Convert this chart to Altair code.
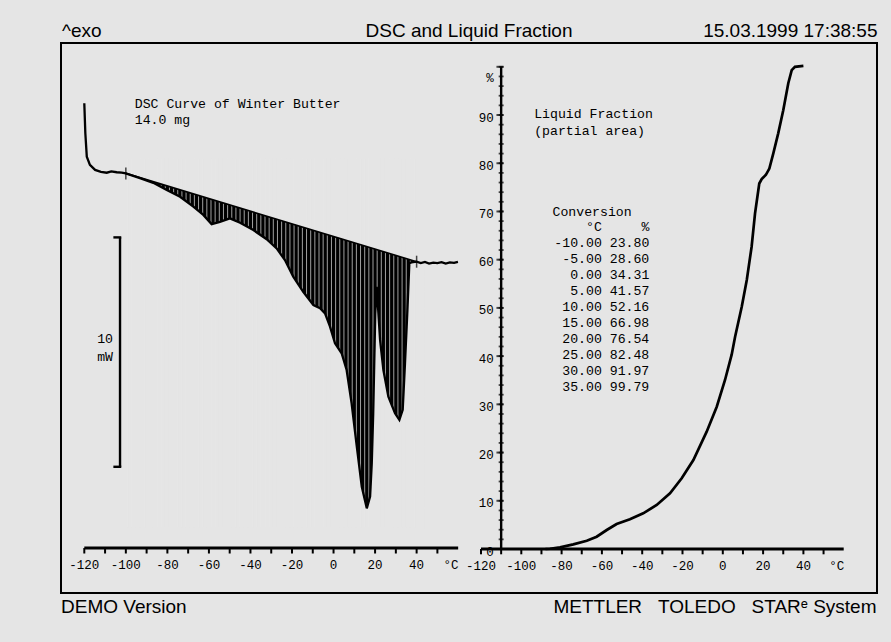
import altair as alt
import pandas as pd
import numpy as np

BG = "#e5e5e5"
INK = "#000000"
MONO = "Liberation Mono"
SANS = "Liberation Sans, DejaVu Sans"
NB = "\u00a0"

# ---------------- data ----------------
# DSC curve of winter butter (left panel): temperature in °C, heat flow in mW (arbitrary offset)
dsc_T = [-120.0, -119.5, -118.8, -117.3, -114.8, -112.0, -109.2, -107.0, -104.4, -102.0,
         -100.0, -93.2, -86.8, -80.3, -73.9, -67.5, -62.7, -58.7, -54.7, -49.9,
         -45.0, -38.6, -32.2, -27.4, -23.4, -19.4, -14.6, -9.7, -6.5, -4.1,
         -1.7, 0.7, 3.9, 6.3, 8.7, 11.2, 13.6, 16.0, 17.6, 18.4,
         19.1, 19.6, 20.1, 20.8, 21.6, 22.4, 24.0, 26.4, 29.6, 31.7,
         33.3, 34.4, 35.5, 36.5, 37.5, 40.0, 42.0, 44.0, 46.0, 48.0,
         50.0, 52.0, 54.0, 56.0, 58.0, 59.9]
dsc_mW = [19.39, 18.08, 17.06, 16.70, 16.48, 16.40, 16.36, 16.42, 16.38, 16.36,
          16.33, 16.12, 15.92, 15.61, 15.31, 14.88, 14.52, 14.12, 14.22, 14.37,
          14.18, 13.86, 13.46, 13.06, 12.55, 11.83, 11.17, 10.59, 10.45, 10.23,
          9.65, 8.92, 8.49, 7.76, 6.31, 4.42, 2.67, 1.73, 2.24, 3.69,
          5.87, 8.05, 10.23, 11.39, 10.23, 9.07, 7.76, 6.60, 5.87, 5.58,
          6.02, 8.05, 10.23, 12.41, 12.45, 12.48, 12.42, 12.47, 12.40, 12.44,
          12.42, 12.46, 12.40, 12.45, 12.43, 12.47]

# integration baseline (limits marked with small ticks)
base_T = [-100.0, 40.0]
base_mW = [16.33, 12.48]

# liquid fraction (right panel)
lf_T = [-88.0, -85.8, -80.8, -74.2, -67.5, -62.6, -57.6, -52.7, -46.1, -39.5,
        -32.8, -26.2, -20.4, -14.6, -8.0, -3.0, 1.1, 4.4, 6.1, 9.4,
        11.9, 14.3, 16.0, 18.1, 19.3, 21.4, 23.1, 25.1, 27.5, 30.0,
        32.5, 34.2, 35.8, 40.0]
lf_pct = [0.0, 0.05, 0.35, 0.97, 1.72, 2.55, 3.94, 5.18, 6.16, 7.40,
          9.12, 11.55, 14.66, 18.46, 24.33, 29.51, 35.05, 40.3, 44.03, 50.25,
          55.79, 62.69, 69.62, 75.8, 76.7, 77.6, 78.9, 82.1, 86.2, 91.0,
          96.6, 99.3, 100.0, 100.2]

# conversion table
conv_T = [-10, -5, 0, 5, 10, 15, 20, 25, 30, 35]
conv_pct = [23.80, 28.60, 34.31, 41.57, 52.16, 66.98, 76.54, 82.48, 91.97, 99.79]

# axis ticks / labels
x_ticks = [-120, -110, -100, -90, -80, -70, -60, -50, -40, -30, -20, -10, 0, 10, 20, 30, 40, 50]
x_labels = [-120, -100, -80, -60, -40, -20, 0, 20, 40]
y_major = [0, 10, 20, 30, 40, 50, 60, 70, 80, 90, 100]
y_minor = list(range(0, 101, 2))
y_labels = [0, 10, 20, 30, 40, 50, 60, 70, 80, 90]

SCALE_BAR_MW = 10

# ---------------- scales (layout) ----------------
LXS = alt.Scale(domain=[-131.218, 261.655], nice=False, zero=False)
LYS = alt.Scale(domain=[-1.9616, 22.0139], nice=False, zero=False)
RXS = alt.Scale(domain=[-328.437, 76.526], nice=False, zero=False)
RYS = alt.Scale(domain=[-9.1248, 104.936], nice=False, zero=False)


def fx(sc, f):
    return alt.X(f, type="quantitative", scale=sc, axis=None)


def fy(sc, f):
    return alt.Y(f, type="quantitative", scale=sc, axis=None)


def xd(sc, v):
    return alt.XDatum(v, scale=sc, axis=None)


def yd(sc, v):
    return alt.YDatum(v, scale=sc, axis=None)


one = pd.DataFrame({"k": [0]})
dsc_df = pd.DataFrame({"T": dsc_T, "mW": dsc_mW})
base_df = pd.DataFrame({"T": base_T, "mW": base_mW})
lf_df = pd.DataFrame({"T": lf_T, "p": lf_pct})
xt_df = pd.DataFrame({"T": x_ticks})
xl_df = pd.DataFrame({"T": x_labels, "lab": [str(v) for v in x_labels]})
hatch_df = pd.DataFrame({"T": [float(t) for t in np.arange(-99.0, 40.0, 2.0)]})

# ---------------- left panel: DSC ----------------
area_black = alt.Chart(base_df).mark_area(color=INK, opacity=1, fillOpacity=1).encode(
    x=fx(LXS, "T"), y=fy(LYS, "mW"), y2=alt.Y2Datum(1.0))
area_mask = alt.Chart(dsc_df).transform_filter(
    "datum.T >= -105 && datum.T <= 45").mark_area(color=BG, opacity=1, fillOpacity=1).encode(
    x=fx(LXS, "T"), y=fy(LYS, "mW"), y2=alt.Y2Datum(0.8))
hatch = alt.Chart(hatch_df).mark_rule(color=BG, strokeWidth=0.7).encode(
    x=fx(LXS, "T"), y=yd(LYS, 17.0), y2=alt.Y2Datum(0.9))
base_line = alt.Chart(base_df).mark_line(color=INK, strokeWidth=1.6).encode(
    x=fx(LXS, "T"), y=fy(LYS, "mW"))
dsc_line = alt.Chart(dsc_df).mark_line(color=INK, strokeWidth=2.3).encode(
    x=fx(LXS, "T"), y=fy(LYS, "mW"))
limit_ticks = alt.Chart(base_df).mark_tick(orient="vertical", color=INK, size=12, thickness=1.5).encode(
    x=fx(LXS, "T"), y=fy(LYS, "mW"))

axL = alt.Chart(one).mark_rule(color=INK, strokeWidth=2.8).encode(
    x=xd(LXS, -120), x2=alt.X2Datum(60), y=yd(LYS, 0))
ticksL = alt.Chart(xt_df).mark_rule(color=INK, strokeWidth=2).encode(
    x=fx(LXS, "T"), y=yd(LYS, 0), y2=alt.Y2Datum(-0.24))
labelsL = alt.Chart(xl_df).mark_text(font=MONO, fontSize=12.5, dy=21, baseline="alphabetic", color=INK).encode(
    x=fx(LXS, "T"), y=yd(LYS, 0), text="lab:N")
degL = alt.Chart(one).mark_text(text="°C", font=MONO, fontSize=12.5, dy=21, baseline="alphabetic", color=INK).encode(
    x=xd(LXS, 56.5), y=yd(LYS, 0))

sb_df = pd.DataFrame({"lo": [3.54], "hi": [3.54 + SCALE_BAR_MW]})
sb_ends = pd.DataFrame({"v": [3.54, 3.54 + SCALE_BAR_MW]})
sbar = alt.Chart(sb_df).mark_rule(color=INK, strokeWidth=2.4).encode(
    x=xd(LXS, -102.8), y=fy(LYS, "lo"), y2=alt.Y2(field="hi"))
sbar_ends = alt.Chart(sb_ends).mark_rule(color=INK, strokeWidth=2.4).encode(
    x=xd(LXS, -106.0), x2=alt.X2Datum(-102.2), y=fy(LYS, "v"))
sb_text = alt.Chart(one).mark_text(text=[str(SCALE_BAR_MW), "mW"], font=MONO, fontSize=13.2, align="right",
                                   baseline="alphabetic", lineHeight=18.4, color=INK).encode(
    x=xd(LXS, -106.2), y=yd(LYS, 8.94))
dsc_title = alt.Chart(one).mark_text(text=["DSC Curve of Winter Butter", "14.0 mg"], font=MONO, fontSize=13.2,
                                     align="left", baseline="alphabetic", lineHeight=15.7, color=INK).encode(
    x=xd(LXS, -95.7), y=yd(LYS, 19.17))

left = alt.layer(area_black, area_mask, hatch, base_line, dsc_line, limit_ticks,
                 axL, ticksL, labelsL, degL, sbar, sbar_ends, sb_text, dsc_title)

# ---------------- right panel: liquid fraction ----------------
ylab_df = pd.DataFrame({"p": y_labels, "lab": [str(v) for v in y_labels]})
yaxR = alt.Chart(one).mark_rule(color=INK, strokeWidth=2.4).encode(
    x=xd(RXS, -110), y=yd(RYS, 0), y2=alt.Y2Datum(100))
ymajR = alt.Chart(pd.DataFrame({"p": y_major})).mark_tick(orient="horizontal", color=INK, size=7,
                                                         thickness=2, xOffset=-1.2).encode(
    x=xd(RXS, -110), y=fy(RYS, "p"))
yminR = alt.Chart(pd.DataFrame({"p": y_minor})).mark_tick(orient="horizontal", color=INK, size=5,
                                                         thickness=1.8).encode(
    x=xd(RXS, -110), y=fy(RYS, "p"))
ylabR = alt.Chart(ylab_df).mark_text(font=MONO, fontSize=12.5, align="right", baseline="alphabetic",
                                     dx=-7.5, dy=6.5, color=INK).encode(
    x=xd(RXS, -110), y=fy(RYS, "p"), text="lab:N")
pctR = alt.Chart(one).mark_text(text="%", font=MONO, fontSize=12.5, align="right", baseline="alphabetic",
                                dx=-7.5, dy=15, color=INK).encode(
    x=xd(RXS, -110), y=yd(RYS, 100))
axR = alt.Chart(one).mark_rule(color=INK, strokeWidth=2.8).encode(
    x=xd(RXS, -120), x2=alt.X2Datum(60), y=yd(RYS, 0))
ticksR = alt.Chart(xt_df).mark_rule(color=INK, strokeWidth=2).encode(
    x=fx(RXS, "T"), y=yd(RYS, 0), y2=alt.Y2Datum(-1.1))
labelsR = alt.Chart(xl_df).mark_text(font=MONO, fontSize=12.5, dy=21, baseline="alphabetic", color=INK).encode(
    x=fx(RXS, "T"), y=yd(RYS, 0), text="lab:N")
degR = alt.Chart(one).mark_text(text="°C", font=MONO, fontSize=12.5, dy=21, baseline="alphabetic", color=INK).encode(
    x=xd(RXS, 56.5), y=yd(RYS, 0))
lf_line = alt.Chart(lf_df).mark_line(color=INK, strokeWidth=2.7).encode(
    x=fx(RXS, "T"), y=fy(RYS, "p"))
lf_title = alt.Chart(one).mark_text(text=["Liquid Fraction", "(partial area)"], font=MONO, fontSize=13.2,
                                    align="left", baseline="alphabetic", lineHeight=16.7, color=INK).encode(
    x=xd(RXS, -93.6), y=yd(RYS, 89.32))
conv_title = alt.Chart(one).mark_text(text="Conversion", font=MONO, fontSize=13.2, align="left",
                                      baseline="alphabetic", color=INK).encode(
    x=xd(RXS, -84.5), y=yd(RYS, 69.0))
table_lines = ["°C" + NB * 5 + "%"] + [f"{t:.2f} {p:.2f}" for t, p in zip(conv_T, conv_pct)]
conv_table = alt.Chart(one).mark_text(text=table_lines, font=MONO, fontSize=13.2, align="right",
                                      baseline="alphabetic", lineHeight=16.05, color=INK).encode(
    x=xd(RXS, -36.48), y=yd(RYS, 66.0))

right = alt.layer(yaxR, ymajR, yminR, ylabR, pctR, axR, ticksR, labelsR, degR, lf_line,
                  lf_title, conv_title, conv_table)

# ---------------- header / footer ----------------
def label(txt, x, y, align):
    return alt.Chart(one).mark_text(text=txt, font=SANS, fontSize=19, align=align, baseline="alphabetic",
                                    color=INK).encode(x=alt.value(x), y=alt.value(y))


hdr = [label("^exo", 1, -6.3, "left"),
       label("DSC and Liquid Fraction", 408, -6.3, "center"),
       label("15.03.1999 17:38:55", 816.5, -6, "right"),
       label("DEMO Version", 0, 570, "left"),
       label("METTLER" + NB * 3 + "TOLEDO" + NB * 3 + "STAR\u1d49" + NB + "System", 815.5, 570, "right")]

chart = alt.layer(left, right, *hdr).resolve_scale(x="independent", y="independent").properties(
    width=816, height=550, background=BG,
    padding={"left": 61, "top": 43, "right": 14, "bottom": 49},
    autosize=alt.AutoSizeParams(type="none"),
).configure_view(stroke=INK, strokeWidth=2, fill=BG)

chart.save("out.html", embed_options={"renderer": "svg", "actions": False})
